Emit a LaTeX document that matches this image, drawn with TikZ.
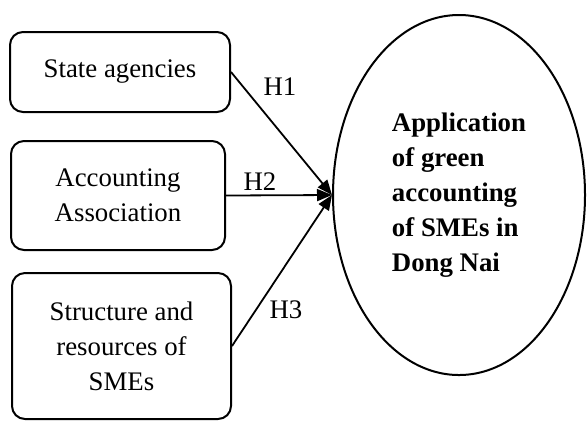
\documentclass[tikz,border=0pt]{standalone}
\usepackage{fontspec}
\setmainfont{Liberation Serif}
\usetikzlibrary{arrows.meta, shapes.geometric}

\tikzset{
    factor/.style={draw=black, line width=1pt, rounded corners=6.5pt, align=center, inner sep=0pt},
    outcome/.style={draw=black, ellipse, line width=1pt, inner sep=0pt},
    hyp/.style={draw=black, line width=0.9pt, -{Triangle[length=7.5pt, width=6pt]}},
    every node/.style={font=\fontsize{13.4}{17.5}\selectfont}
}

\begin{document}
\begin{tikzpicture}[x=0.5pt, y=-0.5pt]
    % Picture frame (same size as the reference)
    \useasboundingbox (0,0) rectangle (587,420);

    % --- Factors on the left ---
    \node[factor, minimum width=110pt, minimum height=40pt] (state) at (120,72) {State agencies};
    \node[factor, minimum width=107pt, minimum height=54.5pt] (assoc) at (118,195.5) {Accounting\\Association};
    \node[factor, minimum width=109.5pt, minimum height=73pt] (struct) at (121.5,346) {Structure and\\resources of\\SMEs};

    % --- Outcome on the right ---
    \node[outcome, minimum width=126pt, minimum height=180pt] (app) at (459,195) {};
    \node[align=left, font=\fontsize{13.4}{17.5}\selectfont\bfseries] (apptext) at (app.center)
        {Application\\of green\\accounting\\of SMEs in\\Dong Nai};

    % --- Hypotheses ---
    \draw[hyp] (state.east) -- (app.west);
    \draw[hyp] (assoc.east) -- (app.west);
    \draw[hyp] (struct.east) -- (app.west);

    \node (h1) at (280,87) {H1};
    \node (h2) at (260,182) {H2};
    \node (h3) at (286,310) {H3};
\end{tikzpicture}
\end{document}
